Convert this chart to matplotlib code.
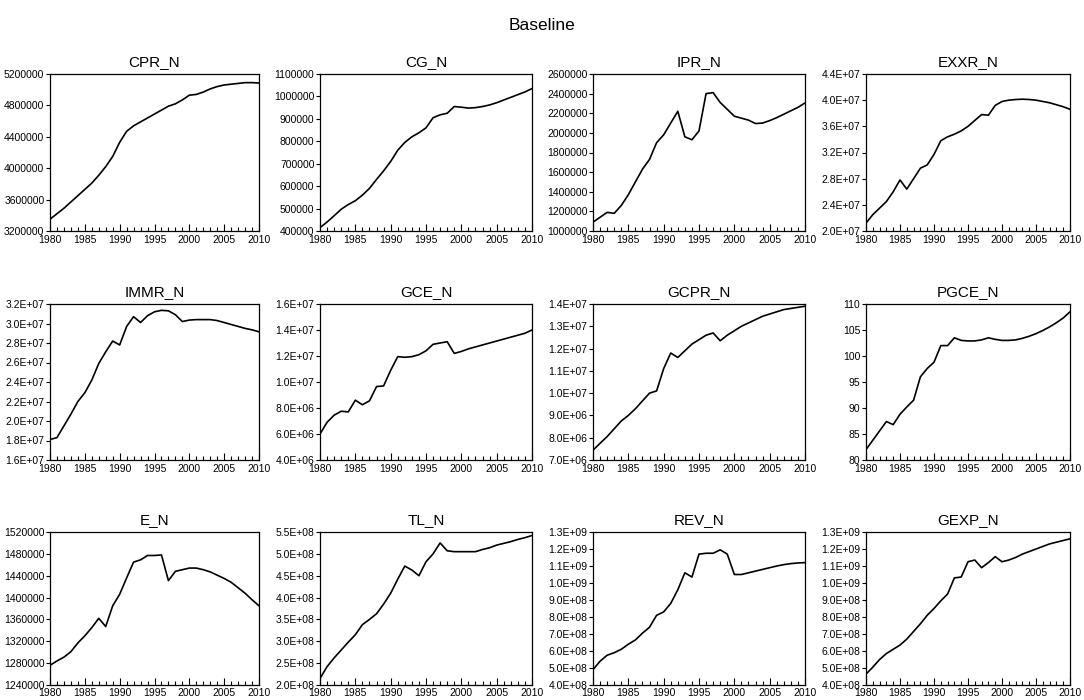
import matplotlib
matplotlib.use("Agg")
import matplotlib.pyplot as plt
from matplotlib.ticker import FuncFormatter, MultipleLocator
import numpy as np

plt.rcParams['font.family'] = ['Liberation Sans', 'DejaVu Sans']

years = list(range(1980, 2011))

CPR_N = [3350000, 3420000, 3490000, 3570000, 3650000, 3730000, 3810000, 3910000, 4020000, 4150000,
         4330000, 4470000, 4540000, 4590000, 4640000, 4690000, 4740000, 4790000, 4820000, 4870000,
         4930000, 4940000, 4970000, 5010000, 5040000, 5060000, 5070000, 5080000, 5090000, 5090000, 5085000]
CG_N = [415000, 440000, 468000, 497000, 518000, 535000, 560000, 590000, 630000, 668000,
        710000, 760000, 795000, 820000, 838000, 860000, 905000, 918000, 925000, 955000,
        952000, 948000, 950000, 955000, 962000, 972000, 984000, 996000, 1008000, 1020000, 1035000]
IPR_N = [1090000, 1140000, 1190000, 1180000, 1260000, 1370000, 1500000, 1630000, 1730000, 1900000,
         1980000, 2100000, 2220000, 1960000, 1930000, 2020000, 2400000, 2410000, 2310000, 2240000,
         2170000, 2150000, 2130000, 2095000, 2100000, 2125000, 2155000, 2190000, 2225000, 2260000, 2305000]
EXXR_N = [2.12e7, 2.25e7, 2.35e7, 2.45e7, 2.60e7, 2.78e7, 2.64e7, 2.80e7, 2.96e7, 3.01e7,
          3.17e7, 3.38e7, 3.44e7, 3.48e7, 3.53e7, 3.60e7, 3.69e7, 3.78e7, 3.77e7, 3.92e7,
          3.98e7, 4.00e7, 4.01e7, 4.015e7, 4.01e7, 4.00e7, 3.98e7, 3.96e7, 3.93e7, 3.90e7, 3.86e7]
IMMR_N = [1.81e7, 1.83e7, 1.95e7, 2.07e7, 2.20e7, 2.29e7, 2.42e7, 2.59e7, 2.71e7, 2.82e7,
          2.78e7, 2.97e7, 3.07e7, 3.01e7, 3.08e7, 3.12e7, 3.135e7, 3.13e7, 3.09e7, 3.02e7,
          3.035e7, 3.04e7, 3.04e7, 3.04e7, 3.03e7, 3.01e7, 2.99e7, 2.97e7, 2.95e7, 2.935e7, 2.915e7]
GCE_N = [6.0e6, 6.9e6, 7.45e6, 7.75e6, 7.7e6, 8.6e6, 8.25e6, 8.55e6, 9.65e6, 9.7e6,
         1.09e7, 1.195e7, 1.19e7, 1.195e7, 1.21e7, 1.24e7, 1.29e7, 1.30e7, 1.31e7, 1.22e7,
         1.235e7, 1.255e7, 1.27e7, 1.285e7, 1.30e7, 1.315e7, 1.33e7, 1.345e7, 1.36e7, 1.375e7, 1.40e7]
GCPR_N = [7.44e6, 7.75e6, 8.05e6, 8.4e6, 8.75e6, 9.0e6, 9.3e6, 9.65e6, 1.0e7, 1.01e7,
          1.11e7, 1.18e7, 1.16e7, 1.19e7, 1.22e7, 1.24e7, 1.26e7, 1.27e7, 1.235e7, 1.26e7,
          1.28e7, 1.30e7, 1.315e7, 1.33e7, 1.345e7, 1.355e7, 1.365e7, 1.375e7, 1.38e7, 1.385e7, 1.39e7]
PGCE_N = [82.0, 83.8, 85.6, 87.4, 86.8, 88.8, 90.2, 91.5, 96.0, 97.6,
          98.8, 102.0, 102.0, 103.5, 103.0, 102.9, 102.9, 103.1, 103.5, 103.2,
          103.0, 103.0, 103.1, 103.4, 103.8, 104.3, 104.9, 105.6, 106.4, 107.3, 108.5]
E_N = [1276000, 1284000, 1291000, 1301000, 1317000, 1330000, 1345000, 1362000, 1347000, 1385000,
       1406000, 1436000, 1465000, 1469000, 1477000, 1477000, 1478000, 1431000, 1448000, 1451000,
       1454000, 1454000, 1451000, 1447000, 1441000, 1435000, 1428000, 1418000, 1408000, 1396000, 1385000]
TL_N = [2.15e8, 2.42e8, 2.62e8, 2.80e8, 2.98e8, 3.15e8, 3.38e8, 3.50e8, 3.63e8, 3.85e8,
        4.10e8, 4.42e8, 4.72e8, 4.63e8, 4.50e8, 4.82e8, 5.00e8, 5.25e8, 5.07e8, 5.05e8,
        5.05e8, 5.05e8, 5.05e8, 5.10e8, 5.14e8, 5.20e8, 5.24e8, 5.28e8, 5.33e8, 5.37e8, 5.42e8]
REV_N = [4.9e8, 5.4e8, 5.75e8, 5.9e8, 6.1e8, 6.4e8, 6.65e8, 7.05e8, 7.4e8, 8.1e8,
         8.3e8, 8.8e8, 9.6e8, 1.06e9, 1.035e9, 1.17e9, 1.175e9, 1.175e9, 1.195e9, 1.17e9,
         1.05e9, 1.05e9, 1.06e9, 1.07e9, 1.08e9, 1.09e9, 1.10e9, 1.108e9, 1.114e9, 1.118e9, 1.12e9]
GEXP_N = [4.64e8, 5.05e8, 5.5e8, 5.85e8, 6.1e8, 6.35e8, 6.7e8, 7.15e8, 7.6e8, 8.1e8,
          8.5e8, 8.95e8, 9.35e8, 1.03e9, 1.035e9, 1.125e9, 1.135e9, 1.09e9, 1.12e9, 1.155e9,
          1.125e9, 1.135e9, 1.15e9, 1.17e9, 1.185e9, 1.20e9, 1.215e9, 1.23e9, 1.24e9, 1.25e9, 1.26e9]

titles = ["CPR_N", "CG_N", "IPR_N", "EXXR_N", "IMMR_N", "GCE_N", "GCPR_N", "PGCE_N",
          "E_N", "TL_N", "REV_N", "GEXP_N"]
series = [CPR_N, CG_N, IPR_N, EXXR_N, IMMR_N, GCE_N, GCPR_N, PGCE_N, E_N, TL_N, REV_N, GEXP_N]
ylims = [(3200000, 5200000), (400000, 1100000), (1000000, 2600000), (2.0e7, 4.4e7),
         (1.6e7, 3.2e7), (4.0e6, 1.6e7), (7.0e6, 1.4e7), (80, 110),
         (1240000, 1520000), (2.0e8, 5.5e8), (4.0e8, 1.3e9), (4.0e8, 1.3e9)]
ysteps = [400000, 100000, 200000, 4.0e6, 2.0e6, 2.0e6, 1.0e6, 5, 40000, 5.0e7, 1.0e8, 1.0e8]
sci = [False, False, False, True, True, True, True, False, False, True, True, True]

W, H = 1084, 700
col_lr = [(50, 259), (320, 532), (593, 805), (866, 1070)]
row_tb = [(74, 231), (304, 460), (532, 685)]

fig = plt.figure(figsize=(W / 100, H / 100), dpi=100)
fig.text(0.5, 1 - 25 / H, "Baseline", ha="center", va="center", fontsize=12.5)

for i, (t, s) in enumerate(zip(titles, series)):
    r, c = divmod(i, 4)
    l, rr = col_lr[c]
    tp, bt = row_tb[r]
    ax = fig.add_axes([l / W, 1 - bt / H, (rr - l) / W, (bt - tp) / H])
    ax.plot(years, s, color="black", lw=1.2)
    ax.set_xlim(1980, 2010)
    ax.set_ylim(*ylims[i])
    ax.xaxis.set_major_locator(MultipleLocator(5))
    ax.xaxis.set_minor_locator(MultipleLocator(1))
    ax.yaxis.set_major_locator(MultipleLocator(ysteps[i]))
    if sci[i]:
        ax.yaxis.set_major_formatter(FuncFormatter(lambda v, p: f"{v:.1E}"))
    else:
        ax.yaxis.set_major_formatter(FuncFormatter(lambda v, p: f"{v:.0f}"))
    ax.tick_params(axis="x", which="major", direction="in", length=5, width=0.8,
                   labelsize=7.5, pad=2 if r == 2 else 3)
    ax.tick_params(axis="x", which="minor", direction="in", length=3, width=0.8)
    ax.tick_params(axis="y", which="major", direction="out", length=3, width=0.8,
                   labelsize=7.5, pad=1)
    for sp in ax.spines.values():
        sp.set_linewidth(0.9)
    ax.set_title(t, fontsize=11, pad=6)

fig.savefig("out.png", dpi=100)
